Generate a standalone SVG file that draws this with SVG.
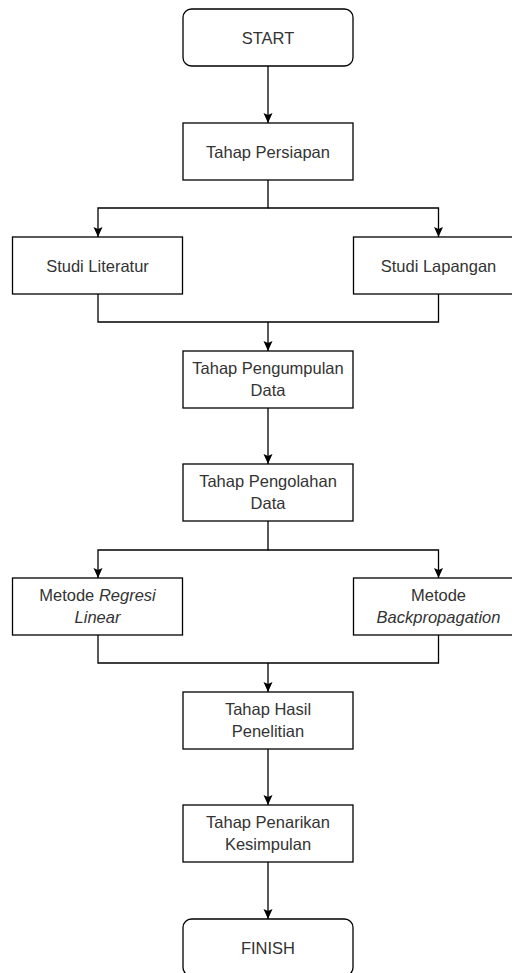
<svg xmlns="http://www.w3.org/2000/svg" width="512" height="973" viewBox="0 0 512 973">
<style>
.box{fill:#fff;stroke:#000;stroke-width:1.3}
.t{font-family:"Liberation Sans",Arial,sans-serif;font-size:16.5px;fill:#333;text-anchor:middle}
.i{font-style:italic}
.c{fill:none;stroke:#000;stroke-width:1.3}
</style>
<defs>
<marker id="ah" markerUnits="userSpaceOnUse" viewBox="0 0 10 10" refX="10" refY="5" markerWidth="10" markerHeight="10" orient="auto">
<path d="M0,0.5 L10,5 L0,9.5 L2,5 z" fill="#000"/>
</marker>
</defs>
<rect width="512" height="973" fill="#fff"/>
<g id="connectors">
<path class="c" d="M268,66 V123" marker-end="url(#ah)"/>
<path class="c" d="M268,180 V208 H98 V237" marker-end="url(#ah)"/>
<path class="c" d="M268,208 H438.5 V237" marker-end="url(#ah)"/>
<path class="c" d="M98,294 V322 H438.5 V294"/>
<path class="c" d="M268,322 V351" marker-end="url(#ah)"/>
<path class="c" d="M268,408 V464" marker-end="url(#ah)"/>
<path class="c" d="M268,521 V550 H98 V578" marker-end="url(#ah)"/>
<path class="c" d="M268,550 H438.5 V578" marker-end="url(#ah)"/>
<path class="c" d="M98,635 V663 H438.5 V635"/>
<path class="c" d="M268,663 V692" marker-end="url(#ah)"/>
<path class="c" d="M268,749 V805" marker-end="url(#ah)"/>
<path class="c" d="M268,862 V919" marker-end="url(#ah)"/>
</g>
<g id="start">
<rect class="box" x="183" y="9" width="170" height="57" rx="8.5"/>
<text class="t" x="268" y="43.5">START</text>
</g>
<g id="persiapan">
<rect class="box" x="183" y="123" width="170" height="57"/>
<text class="t" x="268" y="157.5">Tahap Persiapan</text>
</g>
<g id="literatur">
<rect class="box" x="12.5" y="237" width="170" height="57"/>
<text class="t" x="97.5" y="271.5">Studi Literatur</text>
</g>
<g id="lapangan">
<rect class="box" x="353.5" y="237" width="170" height="57"/>
<text class="t" x="438.5" y="271.5">Studi Lapangan</text>
</g>
<g id="pengumpulan">
<rect class="box" x="183" y="351" width="170" height="57"/>
<text class="t" x="268" y="374">Tahap Pengumpulan</text>
<text class="t" x="268" y="395.5">Data</text>
</g>
<g id="pengolahan">
<rect class="box" x="183" y="464" width="170" height="57"/>
<text class="t" x="268" y="487">Tahap Pengolahan</text>
<text class="t" x="268" y="508.5">Data</text>
</g>
<g id="regresi">
<rect class="box" x="12.5" y="578" width="170" height="57"/>
<text class="t" x="97.5" y="601">Metode <tspan class="i">Regresi</tspan></text>
<text class="t i" x="97.5" y="622.5">Linear</text>
</g>
<g id="backprop">
<rect class="box" x="353.5" y="578" width="170" height="57"/>
<text class="t" x="438.5" y="601">Metode</text>
<text class="t i" x="438.5" y="622.5">Backpropagation</text>
</g>
<g id="hasil">
<rect class="box" x="183" y="692" width="170" height="57"/>
<text class="t" x="268" y="715">Tahap Hasil</text>
<text class="t" x="268" y="736.5">Penelitian</text>
</g>
<g id="penarikan">
<rect class="box" x="183" y="805" width="170" height="57"/>
<text class="t" x="268" y="828">Tahap Penarikan</text>
<text class="t" x="268" y="849.5">Kesimpulan</text>
</g>
<g id="finish">
<rect class="box" x="183" y="919" width="170" height="57" rx="8.5"/>
<text class="t" x="268" y="953.5">FINISH</text>
</g>
</svg>
